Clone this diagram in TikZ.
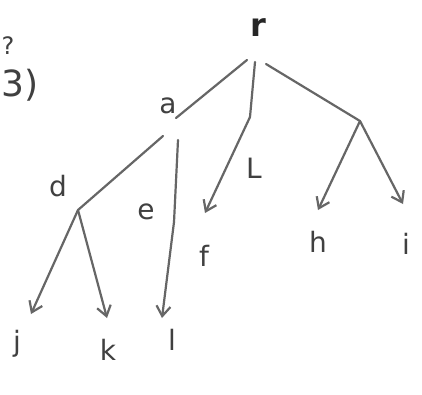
\documentclass[tikz,border=0pt]{standalone}
\usepackage{fontspec}
\setmainfont{DejaVu Sans}
\usetikzlibrary{arrows.meta}
\begin{document}
\begin{tikzpicture}[x=1pt,y=-1pt,
  edge/.style={draw=black!60, line width=2.2pt, line cap=round},
  arr/.style={edge, -{Straight Barb[length=10pt,width=14pt,line width=2.2pt]}},
  lbl/.style={text=black!75, font=\fontsize{28}{30}\selectfont, inner sep=0pt}]
\useasboundingbox[fill=white] (0,0) rectangle (422,394);
% labels
\node[lbl, font=\bfseries\fontsize{32}{34}\selectfont, text=black!85] (rl) at (258,28) {r};
\node[lbl] (al) at (168,106) {a};
\node[lbl] (dl) at (58,186) {d};
\node[lbl] (el) at (146,212) {e};
\node[lbl] (fl) at (204,256) {f};
\node[lbl] (hl) at (318,242) {h};
\node[lbl] (il) at (406,244) {i};
\node[lbl] (jl) at (17,344) {j};
\node[lbl] (kl) at (108,350) {k};
\node[lbl] (ll) at (172,340) {l};
\node[lbl] (Ll) at (254,168) {L};
\node[lbl, font=\fontsize{24}{26}\selectfont] (q) at (8,46) {?};
\node[lbl, font=\fontsize{36}{38}\selectfont] (tl) at (20,85) {3)};
% junctions
\coordinate (r) at (255,62);
\coordinate (r2) at (247,60);
\coordinate (r3) at (266,64);
\coordinate (a) at (163,136);
\coordinate (a1) at (176,118);
\coordinate (m) at (250,117);
\coordinate (g) at (360,121);
\coordinate (d) at (78,210);
\coordinate (a2) at (178,140);
\coordinate (e) at (174,222);
% arrow tips
\coordinate (fa) at (205,213);
\coordinate (ha) at (318,210);
\coordinate (ia) at (403,204);
\coordinate (ja) at (31,314);
\coordinate (ka) at (107,318);
\coordinate (la) at (162,318);
% edges
\draw[edge] (r2) -- (a1);
\draw[edge] (r) -- (m);
\draw[edge] (r3) -- (g);
\draw[arr] (m) -- (fa);
\draw[arr] (g) -- (ha);
\draw[arr] (g) -- (ia);
\draw[edge] (a) -- (d);
\draw[edge] (a2) -- (e);
\draw[arr] (d) -- (ja);
\draw[arr] (d) -- (ka);
\draw[arr] (e) -- (la);
\end{tikzpicture}
\end{document}
